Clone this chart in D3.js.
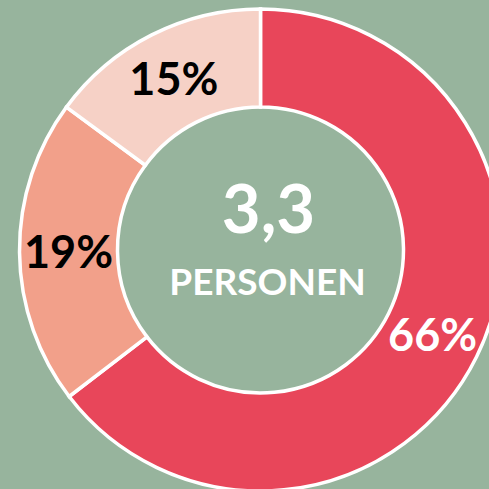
<!DOCTYPE html>
<html>
<head>
<meta charset="utf-8">
<script src="https://cdn.jsdelivr.net/npm/d3@7"></script>
<style>
html,body{margin:0;padding:0;background:#97b49d;}
svg{display:block;}
</style>
</head>
<body>
<svg id="chart" width="489" height="489"></svg>
<script>
const categories = ["A", "B", "C"];
const values = [64.6, 20.5, 14.9];
const labels = ["66%", "19%", "15%"];
const colors = ["#e8465a", "#f2a08a", "#f6d1c6"];
const labelColors = ["#ffffff", "#000000", "#000000"];
const centerValue = "3,3";
const centerLabel = "PERSONEN";

const W = 489, H = 489;
const cx = 260.5, cy = 250;
const outerR = 241, innerR = 143;

const svg = d3.select("#chart");
svg.append("rect").attr("width", W).attr("height", H).attr("fill", "#97b49d");

const g = svg.append("g").attr("transform", `translate(${cx},${cy})`);

const pie = d3.pie().sort(null).value(d => d.v);
const data = pie(categories.map((c, i) => ({c, v: values[i], i})));
const arc = d3.arc().innerRadius(innerR).outerRadius(outerR);

g.selectAll("path.slice").data(data).join("path")
  .attr("class", "slice")
  .attr("d", arc)
  .attr("fill", d => colors[d.data.i])
  .attr("stroke", "#ffffff")
  .attr("stroke-width", 3.5)
  .attr("stroke-linejoin", "miter");

g.selectAll("text.lbl").data(data).join("text")
  .attr("class", "lbl")
  .attr("x", d => arc.centroid(d)[0])
  .attr("y", d => arc.centroid(d)[1])
  .attr("dy", "0.36em")
  .attr("text-anchor", "middle")
  .attr("font-family", "Lato, 'Open Sans', sans-serif")
  .attr("font-weight", "bold")
  .attr("font-size", 45)
  .attr("fill", d => labelColors[d.data.i])
  .text(d => labels[d.data.i]);

g.append("text")
  .attr("x", 8).attr("y", -17)
  .attr("text-anchor", "middle")
  .attr("font-family", "Lato, 'Open Sans', sans-serif")
  .attr("font-weight", "bold")
  .attr("font-size", 67)
  .attr("fill", "#ffffff")
  .text(centerValue);

g.append("text")
  .attr("x", 7).attr("y", 45)
  .attr("text-anchor", "middle")
  .attr("font-family", "Lato, 'Open Sans', sans-serif")
  .attr("font-weight", "bold")
  .attr("font-size", 37)
  .attr("fill", "#ffffff")
  .text(centerLabel);
</script>
</body>
</html>
